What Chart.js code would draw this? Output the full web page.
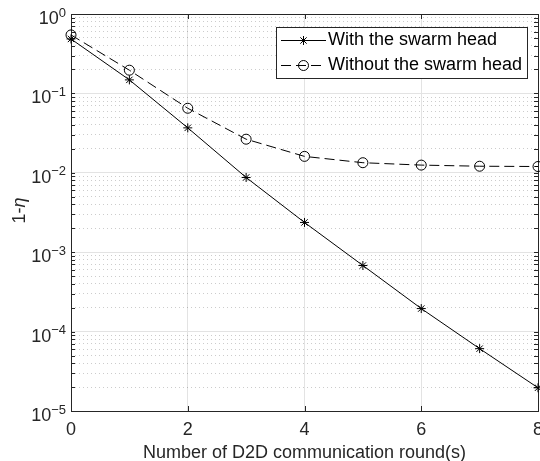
<!DOCTYPE html>
<html>
<head>
<meta charset="utf-8">
<script src="https://cdn.jsdelivr.net/npm/chart.js@4.4.1/dist/chart.umd.min.js"></script>
<style>
  html, body { margin: 0; padding: 0; background: #fff; }
  canvas { display: block; }
</style>
</head>
<body>
<canvas id="myChart" width="540" height="461"></canvas>
<script>
// rounds of D2D communication
const rounds = [0, 1, 2, 3, 4, 5, 6, 7, 8];

// 1 - eta
const withHead = [0.485, 0.148, 0.0368, 0.00873, 0.00237, 0.00068, 0.000195, 0.000061, 0.0000196];
const withoutHead = [0.545, 0.196, 0.065, 0.0265, 0.0161, 0.0134, 0.0125, 0.0121, 0.0120];

const seriesNames = ['With the swarm head', 'Without the swarm head'];

// tick labels
const xTicks = [0, 2, 4, 6, 8];
const yExponents = [0, -1, -2, -3, -4, -5];
const minorSteps = [2, 3, 4, 5, 6, 7, 8, 9];

const axisColor = '#262626';
const fontFamily = 'Arial, "Liberation Sans", Helvetica, sans-serif';

function isDecade(v) {
    const e = Math.log10(v);
    return Math.abs(e - Math.round(e)) < 1e-6;
}

// frame, inward ticks, y labels with superscripts, y title, legend
const matlabLook = {
    id: 'matlabLook',
    beforeDatasetsDraw(chart) {
        const { ctx, chartArea: a, scales } = chart;
        const x = scales.x, y = scales.y;
        ctx.save();
        ctx.strokeStyle = axisColor;
        ctx.lineWidth = 1;
        ctx.beginPath();
        // y ticks on left and right
        y.ticks.forEach(t => {
            const py = Math.round(y.getPixelForValue(t.value)) + 0.5;
            const len = 4;
            ctx.moveTo(a.left, py); ctx.lineTo(a.left + len, py);
            ctx.moveTo(a.right, py); ctx.lineTo(a.right - len, py);
        });
        // x ticks on bottom and top
        xTicks.forEach(v => {
            const px = Math.round(x.getPixelForValue(v)) + 0.5;
            ctx.moveTo(px, a.bottom); ctx.lineTo(px, a.bottom - 5);
            ctx.moveTo(px, a.top); ctx.lineTo(px, a.top + 5);
        });
        ctx.stroke();
        ctx.strokeRect(Math.round(a.left) + 0.5, Math.round(a.top) + 0.5,
            Math.round(a.right - a.left), Math.round(a.bottom - a.top));

        // y tick labels 10^n
        ctx.fillStyle = axisColor;
        ctx.textBaseline = 'middle';
        yExponents.forEach(e => {
            const py = y.getPixelForValue(Math.pow(10, e));
            const expText = e < 0 ? '\u2212' + Math.abs(e) : String(e);
            ctx.font = '13px ' + fontFamily;
            const ew = ctx.measureText(expText).width;
            ctx.font = '18px ' + fontFamily;
            const bw = ctx.measureText('10').width;
            const right = a.left - 5;
            ctx.textAlign = 'left';
            ctx.fillText('10', right - ew - bw, py + 5);
            ctx.font = '13px ' + fontFamily;
            ctx.fillText(expText, right - ew, py - 1);
        });

        // y title 1-eta
        ctx.translate(20, (a.top + a.bottom) / 2 - 2);
        ctx.rotate(-Math.PI / 2);
        ctx.font = '18px ' + fontFamily;
        const w1 = ctx.measureText('1-').width;
        ctx.font = 'italic 18px ' + fontFamily;
        const w2 = ctx.measureText('\u03b7').width;
        ctx.textAlign = 'left';
        ctx.font = '18px ' + fontFamily;
        ctx.fillText('1-', -(w1 + w2) / 2, 0);
        ctx.font = 'italic 18px ' + fontFamily;
        ctx.fillText('\u03b7', -(w1 + w2) / 2 + w1, 0);
        ctx.restore();
    },
    afterDraw(chart) {
        const { ctx, chartArea: a } = chart;
        const bx = a.right - 262, by = a.top + 13, bw = 251, bh = 51;
        ctx.save();
        ctx.fillStyle = '#fff';
        ctx.fillRect(bx, by, bw, bh);
        ctx.strokeStyle = axisColor;
        ctx.lineWidth = 1;
        ctx.strokeRect(Math.round(bx) + 0.5, Math.round(by) + 0.5, bw, bh);

        chart.data.datasets.forEach((ds, i) => {
            const ry = Math.round(by + 13 + i * 25) + 0.5;
            const x0 = bx + 5, x1 = bx + 50;
            ctx.strokeStyle = ds.borderColor;
            ctx.lineWidth = ds.borderWidth;
            ctx.setLineDash(ds.borderDash || []);
            ctx.beginPath();
            ctx.moveTo(x0, ry); ctx.lineTo(x1, ry);
            ctx.stroke();
            ctx.setLineDash([]);
            ctx.fillStyle = 'rgba(0,0,0,0)';
            ctx.strokeStyle = ds.pointBorderColor;
            ctx.lineWidth = ds.pointBorderWidth;
            Chart.helpers.drawPoint(ctx, {
                pointStyle: ds.pointStyle,
                radius: ds.pointRadius,
                borderWidth: ds.pointBorderWidth,
                rotation: 0
            }, (x0 + x1) / 2, ry);
            ctx.fillStyle = '#000';
            ctx.font = '18px ' + fontFamily;
            ctx.textAlign = 'left';
            ctx.textBaseline = 'middle';
            ctx.fillText(ds.label, x1 + 2, ry);
        });
        ctx.restore();
    }
};

window.addEventListener('DOMContentLoaded', () => {

    const ctx = document.getElementById('myChart').getContext('2d');
    const myChart = new Chart(ctx, {
        type: 'line',
        data: {
            datasets: [{
                    label: seriesNames[0],
                    data: rounds.map((r, i) => ({ x: r, y: withHead[i] })),
                    borderColor: '#000',
                    backgroundColor: 'rgba(0,0,0,0)',
                    borderWidth: 1,
                    pointStyle: 'star',
                    pointRadius: 4.5,
                    pointBorderWidth: 1,
                    pointBorderColor: '#000',
                    pointBackgroundColor: 'rgba(0,0,0,0)',
                    tension: 0,
                    clip: false
                },
                {
                    label: seriesNames[1],
                    data: rounds.map((r, i) => ({ x: r, y: withoutHead[i] })),
                    borderColor: '#000',
                    backgroundColor: 'rgba(0,0,0,0)',
                    borderWidth: 1,
                    borderDash: [10, 5],
                    pointStyle: 'circle',
                    pointRadius: 5,
                    pointBorderWidth: 1,
                    pointBorderColor: '#000',
                    pointBackgroundColor: 'rgba(0,0,0,0)',
                    tension: 0,
                    clip: false
                }
            ]
        },
        options: {
            responsive: false,
            animation: false,
            devicePixelRatio: 1,
            layout: { autoPadding: false, padding: { top: 14, right: 2, left: 0, bottom: 0 } },
            plugins: {
                legend: { display: false },
                tooltip: { enabled: false }
            },
            scales: {
                x: {
                    type: 'linear',
                    min: 0,
                    max: 8,
                    afterBuildTicks: s => { s.ticks = xTicks.map(v => ({ value: v })); },
                    afterFit: s => { s.height = 50; s.paddingLeft = 0; s.paddingRight = 0; },
                    ticks: {
                        color: axisColor,
                        font: { family: fontFamily, size: 18 },
                        padding: 8,
                        maxRotation: 0
                    },
                    grid: {
                        color: '#e3e3e3',
                        lineWidth: 1,
                        drawTicks: false
                    },
                    border: { display: false },
                    title: {
                        display: true,
                        text: 'Number of D2D communication round(s)',
                        color: axisColor,
                        font: { family: fontFamily, size: 18, lineHeight: 1 },
                        padding: { top: 0, bottom: -1 }
                    }
                },
                y: {
                    type: 'logarithmic',
                    min: 1e-5,
                    max: 1,
                    afterBuildTicks: s => {
                        const t = [];
                        yExponents.slice().reverse().forEach(e => {
                            t.push({ value: Math.pow(10, e), major: true });
                            if (e < 0) minorSteps.forEach(m => t.push({ value: m * Math.pow(10, e), major: false }));
                        });
                        s.ticks = t;
                    },
                    afterFit: s => { s.width = 71; s.paddingTop = 0; s.paddingBottom = 0; },
                    ticks: { display: false },
                    grid: {
                        color: c => (c.tick && isDecade(c.tick.value)) ? '#e3e3e3' : 'rgba(0,0,0,0.2)',
                        lineWidth: 1,
                        drawTicks: false
                    },
                    border: {
                        display: false,
                        dash: c => (c.tick && !isDecade(c.tick.value)) ? [1, 3] : []
                    }
                }
            }
        },
        plugins: [matlabLook]
    });

});
</script>
</body>
</html>
